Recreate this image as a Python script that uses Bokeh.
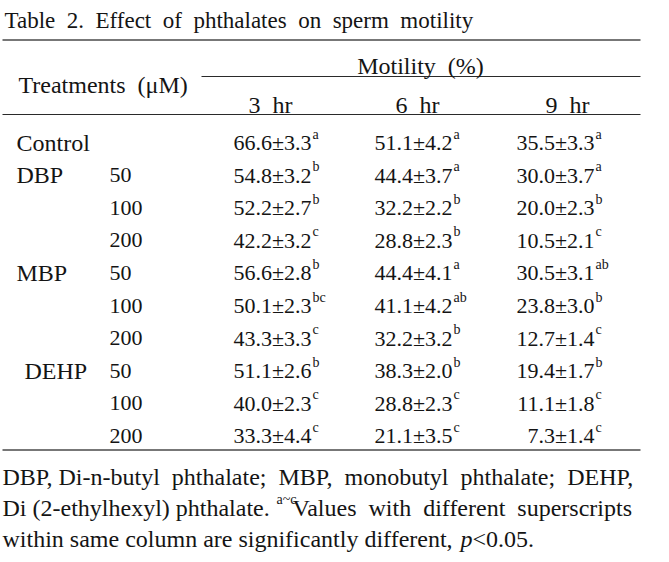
from bokeh.plotting import figure
from bokeh.models import Range1d, ColumnDataSource
from bokeh.core.properties import value
from bokeh.embed import file_html
from bokeh.resources import INLINE

# ---------------- data ----------------
title = "Table 2. Effect of phthalates on sperm motility"
col_group = "Motility (%)"
row_header = "Treatments (μM)"
times = ["3 hr", "6 hr", "9 hr"]
treatments = ["Control", "DBP", "", "", "MBP", "", "", "DEHP", "", ""]
conc = ["", "50", "100", "200", "50", "100", "200", "50", "100", "200"]
m3 = [66.6, 54.8, 52.2, 42.2, 56.6, 50.1, 43.3, 51.1, 40.0, 33.3]
s3 = [3.3, 3.2, 2.7, 3.2, 2.8, 2.3, 3.3, 2.6, 2.3, 4.4]
g3 = ["a", "b", "b", "c", "b", "bc", "c", "b", "c", "c"]
m6 = [51.1, 44.4, 32.2, 28.8, 44.4, 41.1, 32.2, 38.3, 28.8, 21.1]
s6 = [4.2, 3.7, 2.2, 2.3, 4.1, 4.2, 3.2, 2.0, 2.3, 3.5]
g6 = ["a", "a", "b", "b", "a", "ab", "b", "b", "c", "c"]
m9 = [35.5, 30.0, 20.0, 10.5, 30.5, 23.8, 12.7, 19.4, 11.1, 7.3]
s9 = [3.3, 3.7, 2.3, 2.1, 3.1, 3.0, 1.4, 1.7, 1.8, 1.4]
g9 = ["a", "a", "b", "c", "ab", "b", "c", "b", "c", "c"]
foot1 = "DBP, Di-n-butyl phthalate; MBP, monobutyl phthalate; DEHP,"
foot2a = "Di (2-ethylhexyl) phthalate."
foot2sup = "a~c"
foot2b = "Values with different superscripts"
foot3a = "within same column are significantly different,"
foot3p = "p"
foot3b = "<0.05."

# ---------------- layout helpers ----------------
FONT = value("Liberation Serif")
TXT = 24
TTL = 23
NUM = 22
SUP = 14
W = {' ': 250, '\u00a0': 250, 'a': 444, 'b': 500, 'c': 444, 'd': 500, 'e': 444, 'f': 333,
     'g': 500, 'h': 500, 'i': 278, 'j': 278, 'k': 500, 'l': 278, 'm': 778, 'n': 500,
     'o': 500, 'p': 500, 'q': 500, 'r': 333, 's': 389, 't': 278, 'u': 500, 'v': 500,
     'w': 722, 'x': 500, 'y': 500, 'z': 444, 'A': 722, 'B': 667, 'C': 667, 'D': 722,
     'E': 611, 'H': 722, 'M': 889, 'P': 556, 'T': 611, 'V': 722, '.': 250, ',': 250,
     ';': 278, '-': 333, '(': 333, ')': 333, '<': 564, '~': 541, '%': 833, '±': 564,
     'μ': 500}
for d in "0123456789":
    W[d] = 500


def tw(s, size):
    return sum(W.get(ch, 500) for ch in s) * size / 1000.0


def fill(s, target, size):
    words = s.split(" ")
    gaps = len(words) - 1
    if gaps == 0:
        return s
    nat = tw(s, size)
    sp = 0.25 * size
    extra = max(0, int(round((target - nat) / sp)))
    out = words[0]
    for i in range(1, len(words)):
        k = extra * i // gaps - extra * (i - 1) // gaps
        out += " " + "\u00a0" * k + words[i]
    return out


p = figure(width=653, height=554, x_range=Range1d(8, 661), y_range=Range1d(562, 8),
           output_backend="svg", toolbar_location=None, min_border=0, title=None,
           x_axis_location=None, y_axis_location=None)
p.grid.visible = False
p.outline_line_color = None
p.background_fill_color = "white"


def txt(x, y, t, size=TXT, align="left", italic=False, color="#141414"):
    p.text(x=[x], y=[y], text=[t], text_font=FONT, text_font_size=f"{size}px",
           text_align=align, text_baseline="alphabetic", text_color=color,
           text_font_style="italic" if italic else "normal")


L, R = 10, 648
# rules
p.segment(x0=[L, L], x1=[R, R], y0=[47.5, 457.5], y1=[47.5, 457.5], line_color="#777777", line_width=2)
p.segment(x0=[209, L], x1=[R, R], y0=[84, 122], y1=[84, 122], line_color="#2a2a2a", line_width=1.2)

# title + headers
txt(12, 28, fill(title, 470, TTL), size=TTL)
txt(26, 92, fill(row_header, 167, TXT))
txt(428, 73, fill(col_group, 124, TXT), align="center")
hdr_x = [278, 425, 575]
for x, t in zip(hdr_x, times):
    txt(x, 112, fill(t, 44, TXT), align="center")

# body
y0, step = 150, 32.6
rows_y = [y0 + i * step for i in range(len(treatments))]
name_x = [24 if t != "DEHP" else 32 for t in treatments]
src = ColumnDataSource(dict(x=name_x, y=rows_y, t=treatments))
p.text(x="x", y="y", text="t", source=src, text_font=FONT, text_font_size=f"{TXT}px",
       text_baseline="alphabetic", text_color="#141414")
src = ColumnDataSource(dict(x=[117] * len(conc), y=rows_y, t=conc))
p.text(x="x", y="y", text="t", source=src, text_font=FONT, text_font_size=f"{NUM}px",
       text_baseline="alphabetic", text_color="#141414")

col_end = [319, 460, 602]
for xe, m, s, g in zip(col_end, [m3, m6, m9], [s3, s6, s9], [g3, g6, g9]):
    vals = [f"{a:.1f}±{b:.1f}" for a, b in zip(m, s)]
    src = ColumnDataSource(dict(x=[xe] * len(vals), y=rows_y, t=vals))
    p.text(x="x", y="y", text="t", source=src, text_font=FONT, text_font_size=f"{NUM}px",
           text_align="right", text_baseline="alphabetic", text_color="#141414")
    src = ColumnDataSource(dict(x=[xe + 1] * len(g), y=[yy - 8.5 for yy in rows_y], t=g))
    p.text(x="x", y="y", text="t", source=src, text_font=FONT, text_font_size=f"{SUP}px",
           text_align="left", text_baseline="alphabetic", text_color="#141414")

# footnotes
fy = [484, 515, 546]
txt(L, fy[0], fill(foot1, R - L, TXT))
txt(L, fy[1], fill(foot2a, 259, TXT))
txt(284, fy[1] - 8.5, foot2sup, size=SUP)
txt(300, fy[1], fill(foot2b, R - 306, TXT))
s3a = fill(foot3a, 452, TXT)
txt(L, fy[2], s3a)
xp = L + 452 + 0.25 * TXT
txt(xp, fy[2], foot3p, italic=True)
txt(xp + tw("p", TXT), fy[2], foot3b)

open("out.html", "w").write(file_html(p, INLINE))
